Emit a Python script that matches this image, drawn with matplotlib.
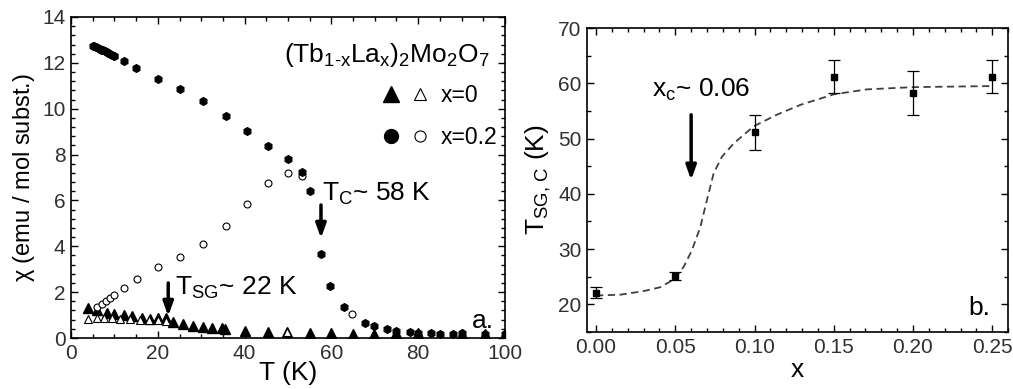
import matplotlib
matplotlib.use("Agg")
import matplotlib.pyplot as plt
from matplotlib.lines import Line2D
from matplotlib.legend_handler import HandlerTuple
from matplotlib.ticker import MultipleLocator, FormatStrFormatter

plt.rcParams['font.family'] = ['Liberation Sans', 'DejaVu Sans']
plt.rcParams['mathtext.fontset'] = 'custom'
plt.rcParams['mathtext.rm'] = 'Liberation Sans'
plt.rcParams['mathtext.it'] = 'Liberation Sans'

# --- panel a: chi(T) ---
# x = 0.2, field cooled (filled)
T_fc02 = [5.0, 5.4, 5.8, 6.2, 6.6, 7.0, 7.4, 7.8, 8.2, 8.6, 9.0, 9.4, 9.8, 10.0,
          12.1, 15.0, 20.1, 25.1, 30.3, 35.7, 40.6, 45.5, 50.1, 53.2, 55.1, 57.6,
          59.7, 62.9, 67.7, 69.9, 72.7, 74.8, 78.0, 80.0, 83.0, 85.0, 88.1, 90.2,
          95.4, 100.0]
chi_fc02 = [12.75, 12.72, 12.69, 12.66, 12.62, 12.58, 12.55, 12.51, 12.47, 12.43,
            12.40, 12.36, 12.32, 12.30, 12.07, 11.78, 11.29, 10.85, 10.34, 9.69,
            9.04, 8.39, 7.79, 7.22, 6.41, 3.65, 2.28, 1.35, 0.64, 0.54, 0.39, 0.31,
            0.28, 0.23, 0.23, 0.17, 0.17, 0.20, 0.17, 0.17]
# x = 0.2, zero field cooled (open)
T_zfc02 = [5.9, 7.1, 8.1, 9.0, 10.0, 12.2, 15.1, 20.0, 25.0, 30.3, 35.7, 40.6,
           45.5, 50.1, 53.2, 64.7]
chi_zfc02 = [1.37, 1.48, 1.61, 1.73, 1.88, 2.17, 2.57, 3.11, 3.52, 4.10, 4.88,
             5.84, 6.74, 7.21, 7.08, 1.03]
# x = 0, field cooled (filled)
T_fc0 = [4.0, 6.1, 8.2, 10.0, 12.1, 14.0, 16.3, 18.2, 20.1, 22.0, 23.6, 25.9,
         28.0, 30.3, 32.6, 34.7, 35.5, 40.1, 45.5, 49.7, 55.1, 59.9, 65.0, 69.9,
         74.8, 80.0, 90.1, 95.4, 100.0]
chi_fc0 = [1.29, 1.20, 1.10, 1.05, 1.00, 0.96, 0.86, 0.81, 0.86, 0.86, 0.71,
           0.61, 0.52, 0.46, 0.42, 0.42, 0.38, 0.32, 0.25, 0.26, 0.22, 0.22,
           0.17, 0.17, 0.22, 0.20, 0.17, 0.17, 0.17]
# x = 0, zero field cooled (open)
T_zfc0 = [4.0, 5.9, 7.6, 9.5, 11.4, 13.5, 16.0, 18.0, 20.0, 22.0, 49.7]
chi_zfc0 = [0.81, 0.86, 0.86, 0.86, 0.83, 0.81, 0.79, 0.78, 0.78, 0.76, 0.27]

# --- panel b: T_SG,C vs x ---
x_conc = [0.00, 0.05, 0.10, 0.15, 0.20, 0.25]
T_trans = [22.1, 25.2, 51.1, 61.2, 58.2, 61.2]
T_err = [1.0, 0.7, 3.1, 3.0, 4.0, 3.0]
# dashed guide curve
x_guide = [0.0, 0.0153, 0.030, 0.0405, 0.049, 0.0553, 0.0605, 0.0658, 0.070,
           0.0742, 0.0794, 0.0868, 0.0994, 0.114, 0.129, 0.150, 0.171, 0.200, 0.250]
T_guide = [21.6, 21.75, 22.4, 23.1, 24.5, 26.8, 29.8, 34.0, 38.9, 43.7, 46.7,
           49.1, 52.2, 54.3, 56.1, 58.0, 58.9, 59.3, 59.5]

fig = plt.figure(figsize=(10.13, 3.89), dpi=100)
ax1 = fig.add_axes([0.0701, 0.1311, 0.4284, 0.8252])
ax2 = fig.add_axes([0.5795, 0.1465, 0.4156, 0.7815])

for ax in (ax1, ax2):
    for s in ax.spines.values():
        s.set_linewidth(1.2)
    ax.tick_params(which='both', direction='in', top=True, right=True,
                   labelsize=15, width=1, labelcolor='#303030')
    ax.tick_params(which='major', length=5, pad=4)
    ax.tick_params(which='minor', length=3)

# panel a
ax1.plot(T_fc0, chi_fc0, ls='none', marker='^', ms=6.5, color='black')
ax1.plot(T_zfc0, chi_zfc0, ls='none', marker='^', ms=6, mfc='white',
         mec='black', mew=0.8)
ax1.plot(T_zfc02, chi_zfc02, ls='none', marker='o', ms=5, mfc='white',
         mec='black', mew=0.8)
ax1.plot(T_fc02, chi_fc02, ls='none', marker='h', ms=5.5, color='black')

ax1.set_xlim(0, 100)
ax1.set_ylim(0, 14)
ax1.xaxis.set_major_locator(MultipleLocator(20))
ax1.xaxis.set_minor_locator(MultipleLocator(5))
ax1.yaxis.set_major_locator(MultipleLocator(2))
ax1.yaxis.set_minor_locator(MultipleLocator(0.4))
ax1.set_xlabel('T (K)', fontsize=19, labelpad=-1)
ax1.set_ylabel(r'$\chi$ (emu / mol subst.)', fontsize=17, labelpad=4)

ax1.text(0.965, 0.86, r'(Tb$_{1\text{-}x}$La$_x$)$_2$Mo$_2$O$_7$', transform=ax1.transAxes,
         ha='right', va='baseline', fontsize=19)

h_tri = (Line2D([], [], ls='none', marker='^', ms=11, color='black'),
         Line2D([], [], ls='none', marker='^', ms=9, mfc='white', mec='black', mew=0.8))
h_circ = (Line2D([], [], ls='none', marker='o', ms=10, color='black'),
          Line2D([], [], ls='none', marker='o', ms=8, mfc='white', mec='black', mew=0.8))
ax1.legend([h_tri, h_circ], ['x=0', 'x=0.2'],
           handler_map={tuple: HandlerTuple(ndivide=None, pad=0.6)},
           loc='upper right', bbox_to_anchor=(1.02, 0.84), frameon=False,
           fontsize=16.5, handlelength=1.9, handletextpad=0.6, labelspacing=0.8,
           borderpad=0.2)

arrow = dict(arrowstyle='-|>,head_width=0.25,head_length=0.7', lw=2.5,
             color='black', mutation_scale=12, shrinkA=0, shrinkB=0)
ax1.annotate('', xy=(22.4, 0.95), xytext=(22.4, 2.4), arrowprops=arrow)
ax1.text(24.0, 2.2, r'T$_{\mathrm{SG}}$~ 22 K', fontsize=19, va='center', ha='left')
ax1.annotate('', xy=(57.6, 4.35), xytext=(57.6, 5.8), arrowprops=arrow)
ax1.text(57.8, 6.3, r'T$_{\mathrm{C}}$~ 58 K', fontsize=19, va='center', ha='left')
ax1.text(97.5, 0.75, 'a.', fontsize=19, va='center', ha='right')

# panel b
ax2.plot(x_guide, T_guide, ls=(0, (4, 2.5)), color='#404040', lw=1.3)
ax2.errorbar(x_conc, T_trans, yerr=T_err, ls='none', marker='s', ms=4.5,
             color='black', ecolor='black', elinewidth=0.9, capsize=4, capthick=0.9)
ax2.set_xlim(-0.0057, 0.26)
ax2.set_ylim(15, 70)
ax2.xaxis.set_major_locator(MultipleLocator(0.05))
ax2.xaxis.set_minor_locator(MultipleLocator(0.01))
ax2.yaxis.set_major_locator(MultipleLocator(10))
ax2.yaxis.set_minor_locator(MultipleLocator(5))
ax2.xaxis.set_major_formatter(FormatStrFormatter('%.2f'))
ax2.set_xlabel('x', fontsize=19, labelpad=1)
ax2.set_ylabel(r'T$_{\mathrm{SG,\,C}}$ (K)', fontsize=19, labelpad=4)
ax2.annotate('', xy=(0.06, 42.5), xytext=(0.06, 54.3), arrowprops=arrow)
ax2.text(0.0353, 58.8, r'x$_{\mathrm{c}}$~ 0.06', fontsize=19, va='center', ha='left')
ax2.text(0.249, 19.3, 'b.', fontsize=19, va='center', ha='right')

fig.savefig('out.png', dpi=100)
